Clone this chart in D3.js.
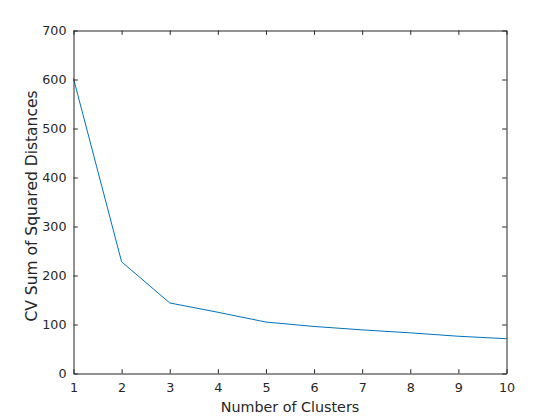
<!DOCTYPE html>
<html>
<head>
<meta charset="utf-8">
<script src="https://cdn.jsdelivr.net/npm/d3@7"></script>
<style>
html, body { margin: 0; padding: 0; background: #fff; }
svg { display: block; }
</style>
</head>
<body>
<script>
const clusters = [1, 2, 3, 4, 5, 6, 7, 8, 9, 10];
const cvSSD = [602, 228, 144, 125, 105, 96, 89, 83, 76, 71];
const xTicks = [1, 2, 3, 4, 5, 6, 7, 8, 9, 10];
const yTicks = [0, 100, 200, 300, 400, 500, 600, 700];
const xLabel = "Number of Clusters";
const yLabel = "CV Sum of Squared Distances";

const W = 560, H = 420;
const L = 73.5, R = 506.5, T = 30.5, B = 373.5;
const ink = "#262626";
const font = "DejaVu Sans, sans-serif";

const svg = d3.select("body").append("svg").attr("width", W).attr("height", H);

const x = d3.scaleLinear().domain([1, 10]).range([L, R]);
const y = d3.scaleLinear().domain([0, 700]).range([B, T]);

// data line
const line = d3.line().x((d, i) => x(clusters[i])).y(d => y(d));
svg.append("path")
  .datum(cvSSD)
  .attr("d", line)
  .attr("fill", "none")
  .attr("stroke", "#0072BD")
  .attr("stroke-width", 1);

function style(g, showLabels) {
  g.select(".domain").attr("stroke", ink).attr("stroke-width", 1);
  g.selectAll(".tick line").attr("stroke", ink).attr("stroke-width", 1);
  g.selectAll(".tick text").attr("fill", ink).attr("font-family", font).attr("font-size", "12.7px");
  if (!showLabels) g.selectAll(".tick text").remove();
}

const tl = 4.3;
svg.append("g").attr("transform", `translate(0,${B})`)
  .call(d3.axisBottom(x).tickValues(xTicks).tickFormat(d3.format("d")).tickSizeInner(-tl).tickSizeOuter(0).tickPadding(9))
  .call(g => style(g, true));
svg.append("g").attr("transform", `translate(0,${T})`)
  .call(d3.axisTop(x).tickValues(xTicks).tickSizeInner(-tl).tickSizeOuter(0))
  .call(g => style(g, false));
svg.append("g").attr("transform", `translate(${L},0)`)
  .call(d3.axisLeft(y).tickValues(yTicks).tickFormat(d3.format("d")).tickSizeInner(-tl).tickSizeOuter(0).tickPadding(7))
  .call(g => style(g, true));
svg.append("g").attr("transform", `translate(${R},0)`)
  .call(d3.axisRight(y).tickValues(yTicks).tickSizeInner(-tl).tickSizeOuter(0))
  .call(g => style(g, false));

svg.append("text")
  .attr("x", (L + R) / 2).attr("y", 411.5)
  .attr("text-anchor", "middle")
  .attr("fill", ink).attr("font-family", font).attr("font-size", "14.3px")
  .text(xLabel);

svg.append("text")
  .attr("transform", `translate(36.5,206) rotate(-90)`)
  .attr("text-anchor", "middle")
  .attr("fill", ink).attr("font-family", font).attr("font-size", "15.5px")
  .text(yLabel);
</script>
</body>
</html>
